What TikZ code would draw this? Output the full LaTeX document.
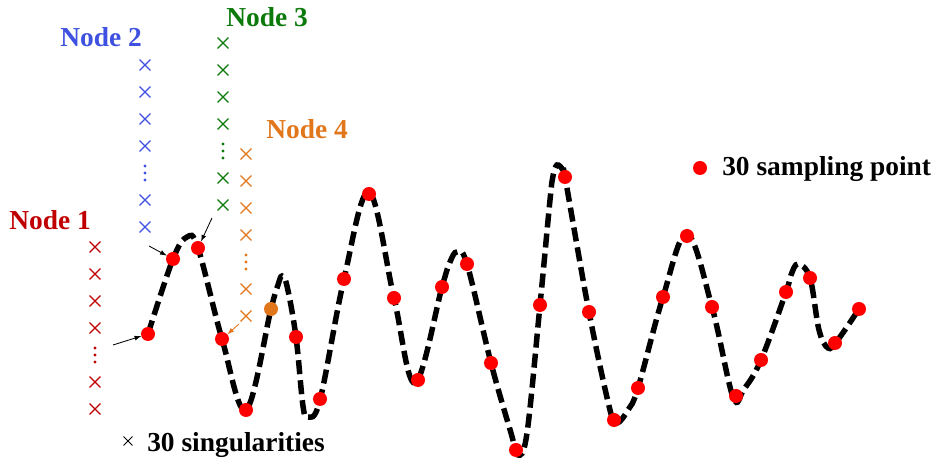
\documentclass[tikz,border=0pt]{standalone}
\usepackage{fontspec}
\setmainfont{Liberation Serif}
\usepackage{tikz}
\usetikzlibrary{arrows,positioning,calc,shapes.misc}
\definecolor{nodeonered}{HTML}{C00000}
\definecolor{nodetwoblue}{HTML}{3F51E0}
\definecolor{nodethreegreen}{HTML}{0B7A0B}
\definecolor{nodefourorange}{HTML}{E2761B}
\definecolor{samplered}{HTML}{FF0000}

\begin{document}
\begin{tikzpicture}[x=0.025cm, y=-0.025cm,
  smp/.style={circle, fill=samplered, inner sep=0pt, minimum size=0.35cm},
  sing/.style={cross out, draw, line width=0.9pt, inner sep=0pt, minimum size=0.24cm},
  lbl/.style={font=\fontsize{19.5}{23}\selectfont\bfseries, inner sep=0pt},
  tip/.style={-latex, line width=0.6pt}]
\useasboundingbox (0,0) rectangle (942,464);
\draw[line width=3.9pt, dash pattern=on 10pt off 4.3pt] plot[smooth, tension=0.6] coordinates {
  (148,334) (173,259) (187,237) (198,248) (222,339) (246,410) (271,309) (278,285)
  (282,276) (287,286) (296,337) (303,406) (308,417) (320,400) (344,279) (369,192)
  (394,298) (415,383) (442,287) (450,262) (457,252) (467,264) (491,363) (511,433)
  (518,455) (527,433) (540,305) (550,200) (553,176) (557,165) (563,170) (565,177)
  (589,312) (610,410) (617,423) (628,410) (638,388) (663,297) (687,234) (712,307)
  (733,397) (744,389) (761,360) (786,292) (791,275) (798,264) (810,278) (819,330)
  (828,348) (837,341) (859,309)};
\foreach \name/\px/\py in {s1/148/334, s2/173/259, s3/198/248, s4/222/339, s5/246/410,
  s7/296/337, s8/320/399, s9/344/279, s10/369/194, s11/394/298, s12/418/380,
  s13/442/287, s14/467/264, s15/491/363, s16/516/450, s17/540/305, s18/565/177,
  s19/589/312, s20/614/420, s21/638/388, s22/663/297, s23/687/236, s24/712/307,
  s25/736/396, s26/761/360, s27/786/292, s28/810/278, s29/835/343, s30/859/309}
  \node[smp] (\name) at (\px,\py) {};
\node[smp, fill=nodefourorange] (s6) at (271,309) {};
\foreach \col/\cx/\cy/\tag in {nodeonered/95/247/a, nodetwoblue/145/65/b,
  nodethreegreen/223/43/c, nodefourorange/246/154/d} {
  \foreach \k in {0,1,2,3,5,6}
    \node[sing, draw=\col] (\tag\k) at (\cx,\cy+27*\k) {};
  \foreach \d in {-7,0,7}
    \fill[\col] (\cx,\cy+108+\d) circle (1.2pt);
}
\coordinate (fa) at (113,345);
\coordinate (fb) at (149,246);
\coordinate (fc) at (212,218);
\coordinate (fd) at (239,324);
\draw[tip] (fa) -- (s1);
\draw[tip] (fb) -- (s2);
\draw[tip] (fc) -- (s3);
\draw[tip, nodefourorange] (fd) -- (s4);
\node[lbl, nodeonered, anchor=base] (lab1) at (50,230) {Node 1};
\node[lbl, nodetwoblue, anchor=base] (lab2) at (101,47) {Node 2};
\node[lbl, nodethreegreen, anchor=base] (lab3) at (267,27) {Node 3};
\node[lbl, nodefourorange, anchor=base] (lab4) at (307,139) {Node 4};
\node[smp] (legdot) at (700,168) {};
\node[lbl, anchor=base west] (legsmp) at (722,176) {30 sampling point};
\node[sing, draw=black, line width=0.7pt, minimum size=0.2cm] (legx) at (128,441) {};
\node[lbl, anchor=base west] (legsing) at (147,452) {30 singularities};
\end{tikzpicture}
\end{document}
